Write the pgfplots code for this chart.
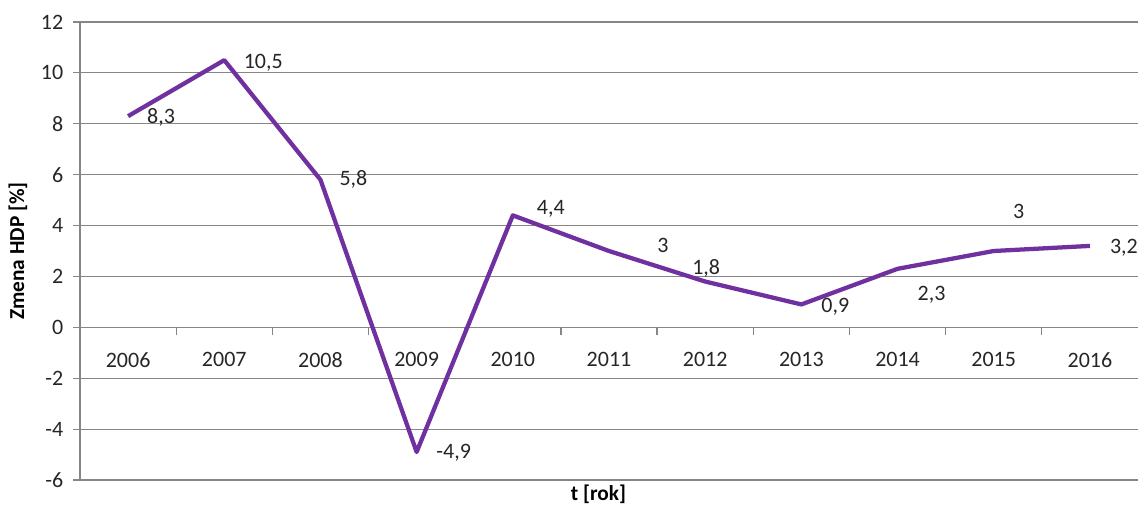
\documentclass[border=0pt]{standalone}
\usepackage{pgfplots}
\pgfplotsset{compat=1.18}
\usepackage{pgfplotstable}
\usepackage{fontspec}
\setmainfont{Carlito}
\definecolor{lineviolet}{RGB}{112,48,160}
\definecolor{gridc}{RGB}{134,134,134}

\pgfplotstableread{
x y lab dx dy
0 8.3 8,3 24.75 -0.75
1 10.5 10,5 29.25 -2.25
2 5.8 5,8 24.75 0
3 -4.9 -4,9 27.75 -0.75
4 4.4 4,4 28.5 5.25
5 3 3 40.5 4.5
6 1.8 1,8 0.75 9.75
7 0.9 0,9 25.5 -1.5
8 2.3 2,3 25.5 -19.5
9 3 3 18.75 30
10 3.2 3,2 25.5 -1.5
}\datatable

\begin{document}
\begin{tikzpicture}
\useasboundingbox (0,0) rectangle (854.25pt,380.25pt);
\begin{axis}[
  at={(60pt,20.25pt)}, anchor=south west,
  scale only axis,
  width=793.5pt, height=343.5pt,
  xmin=-0.5, xmax=10.5,
  ymin=-6, ymax=12,
  axis x line=middle,
  axis y line=left,
  x axis line style={-, draw=gridc, line width=0.9pt},
  y axis line style={-, draw=gridc, line width=0.9pt},
  ytick={-6,-4,...,12},
  yticklabels={-6,-4,-2,0,2,4,6,8,10,12},
  xtick={0,...,10},
  xticklabels={2006,2007,2008,2009,2010,2011,2012,2013,2014,2015,2016},
  minor xtick={0.5,1.5,...,9.5},
  tick align=outside,
  major x tick style={draw=none},
  minor x tick style={draw=gridc, line width=0.9pt},
  minor tick length=6pt,
  major tick length=5pt,
  y tick style={draw=gridc, line width=0.9pt},
  ymajorgrids,
  major grid style={draw=gridc, line width=0.9pt},
  every tick label/.append style={font=\fontsize{16.5}{19}\selectfont, text=black!85},
  xticklabel style={yshift=-10.5pt},
  yticklabel style={xshift=-4pt},
  xlabel={t [rok]},
  ylabel={Zmena HDP [\%]},
  xlabel style={at={(axis description cs:0.49,0)}, anchor=north, yshift=0pt, font=\bfseries\fontsize{16}{19}\selectfont},
  ylabel style={at={(axis description cs:-0.0586,0.5)}, anchor=center, rotate=0, font=\bfseries\fontsize{16}{19}\selectfont},
  clip=false,
  point meta=explicit symbolic,
  visualization depends on={\thisrow{dx}\as\dx},
  visualization depends on={\thisrow{dy}\as\dy},
  nodes near coords,
  nodes near coords style={anchor=center, xshift=\dx pt, yshift=\dy pt, font=\fontsize{16.5}{19}\selectfont, text=black!85},
]
\addplot[lineviolet, line width=3.2pt, line join=round, no markers] table[x=x, y=y, meta=lab] {\datatable};
\end{axis}
\end{tikzpicture}
\end{document}
